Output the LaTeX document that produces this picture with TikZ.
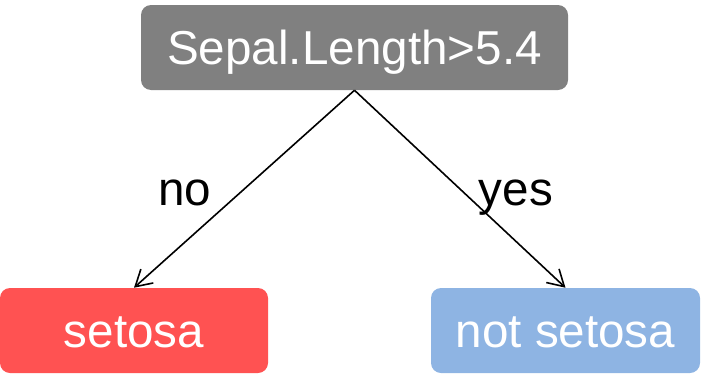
\documentclass[tikz,border=0pt]{standalone}
\usepackage{fontspec}
\setmainfont{Liberation Sans}
\usetikzlibrary{arrows.meta}
\definecolor{splitgray}{RGB}{128,128,128}
\definecolor{setosared}{RGB}{255,82,82}
\definecolor{othersblue}{RGB}{142,180,227}
\tikzset{
  treebox/.style={rounded corners=7.5pt, inner sep=0pt, minimum height=63.75pt,
    text=white, font=\fontsize{35.7pt}{40pt}\selectfont,
    text height=26pt, text depth=0pt},
  edgelabel/.style={inner sep=0pt, anchor=base, text=black,
    font=\fontsize{35.7pt}{40pt}\selectfont},
  branch/.style={draw=black, line width=1.2pt,
    -{Straight Barb[length=12pt, width=14pt, line width=1.2pt]}}
}
\begin{document}
\begin{tikzpicture}[x=0.75pt, y=-0.75pt]
  \useasboundingbox (0,0) rectangle (703,375);
  % split and leaves
  \node[treebox, fill=splitgray, minimum width=320.25pt] (split) at (354.5,47.5) {Sepal.Length>5.4};
  \node[treebox, fill=setosared, minimum width=201pt] (setosa) at (134,330.5) {setosa};
  \node[treebox, fill=othersblue, minimum width=201.75pt] (notsetosa) at (565.5,330.5) {not setosa};
  % branches
  \draw[branch] (split.south) -- (setosa.north);
  \draw[branch] (split.south) -- (notsetosa.north);
  % branch labels
  \node[edgelabel] (nolabel) at (184.5,205) {no};
  \node[edgelabel] (yeslabel) at (516,205) {yes};
\end{tikzpicture}
\end{document}
